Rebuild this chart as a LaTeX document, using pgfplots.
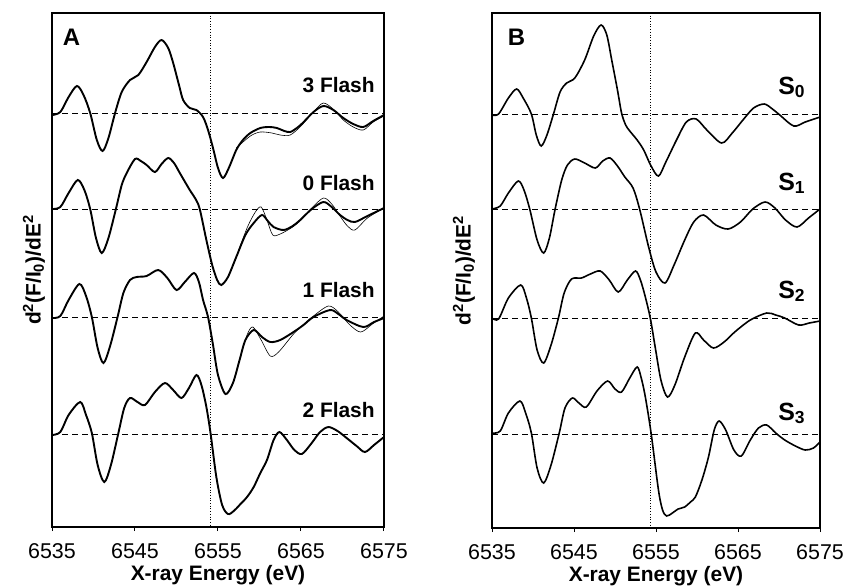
\documentclass[border=0pt]{standalone}
\usepackage{pgfplots}
\pgfplotsset{compat=1.18}
\usepackage{fontspec}
\setmainfont{Liberation Sans}

\tikzset{
  lab/.style={font=\bfseries\fontsize{21}{25}\selectfont},
  big/.style={font=\bfseries\fontsize{24}{28}\selectfont},
  slab/.style={font=\bfseries\fontsize{25}{29}\selectfont},
  curveA/.style={black, line width=1.9bp, smooth, tension=0.5},
  thinA/.style={black, line width=0.6bp, smooth, tension=0.5},
  curve/.style={black, line width=1.6bp, smooth, tension=0.5},
  base/.style={black, line width=0.8bp, dash pattern=on 6bp off 4bp},
  vline/.style={black, line width=0.7bp, dotted},
}
\pgfplotsset{
  panel/.style={
    scale only axis,
    xmin=6535, xmax=6575, y dir=reverse,
    xtick={6535,6545,6555,6565,6575}, ytick=\empty,
    xtick pos=bottom, tick align=outside, major tick length=4bp,
    axis line style={line width=1.3bp},
    xtick style={line width=1bp, black},
    /pgf/number format/assume math mode=true,
    /pgf/number format/1000 sep={},
    tick label style={font=\fontsize{21.5}{25}\selectfont},
    xticklabel style={anchor=center, yshift=-20bp},
    label style={font=\bfseries\fontsize{21}{25}\selectfont},
    xlabel style={at={(axis description cs:0.5,0)}, anchor=center, yshift=-48bp},
    xlabel={X-ray Energy (eV)},
    ylabel={d\textsuperscript{2}(F/I\textsubscript{0})/dE\textsuperscript{2}},
  },
}

\begin{document}
\begin{tikzpicture}
\useasboundingbox (0,0) rectangle (847bp,-586bp);

% ---------------- Panel A ----------------
\begin{axis}[panel, at={(52bp,-527bp)}, anchor=south west,
  width=332bp, height=514bp, ymin=13, ymax=527,
  ylabel style={at={(axis description cs:0,0.5)}, anchor=center, yshift=18bp}]
\addplot[base] coordinates {(6535,113) (6575,113)};
\addplot[base] coordinates {(6535,209) (6575,209)};
\addplot[base] coordinates {(6535,317) (6575,317)};
\addplot[base] coordinates {(6535,434) (6575,434)};
\addplot[vline] coordinates {(6554.1,13) (6554.1,527)};
% 3 Flash
\addplot[curveA] coordinates {
(6535,115) (6536,112) (6537,97) (6538,86) (6538.8,95) (6539.6,113) (6540.4,140) (6541.1,151) (6541.8,138) (6542.6,113) (6543.4,92) (6544.4,80) (6545.4,75) (6546.4,62) (6547.4,47) (6548.2,40) (6549,48) (6549.6,63) (6550.3,85) (6550.8,100) (6551.6,108) (6552.4,110) (6553.2,117) (6553.8,130) (6554.4,148) (6555,168) (6555.6,178) (6556.3,168) (6557.2,150) (6558,140) (6558.9,133) (6560.1,128) (6561.2,127) (6562.1,128) (6563,131) (6563.7,132) (6564.5,128) (6565.2,123) (6566.5,112) (6567.7,106) (6568.9,110) (6570.1,118) (6571.3,124) (6572.5,127) (6573.7,121) (6575,115)};
\addplot[thinA] coordinates {
(6557.2,148) (6558.9,136) (6560.1,132) (6561.5,133) (6562.5,135) (6563.7,135) (6565,126) (6566.5,112) (6567.7,103) (6569,110) (6570.1,120) (6571.3,127) (6572.5,130) (6573.7,122) (6575,116)};
% 0 Flash
\addplot[curveA] coordinates {
(6535,209) (6536,207) (6537,193) (6538.1,180) (6538.9,190) (6539.6,209) (6540.3,238) (6541,253) (6541.8,238) (6542.7,209) (6543.4,185) (6544,173) (6545,159) (6545.7,161) (6546.4,165) (6547.4,172) (6548.2,164) (6549,158) (6549.7,163) (6550.4,173) (6551.6,190) (6552.3,199) (6552.8,209) (6553.6,240) (6554.3,265) (6554.9,280) (6555.4,285) (6556.2,277) (6557.2,257) (6558.3,235) (6559.3,223) (6560.3,215) (6561,221) (6561.7,227) (6562.9,230) (6564,226) (6564.9,220) (6566.3,209) (6567.7,202) (6568.7,207) (6569.7,215) (6570.6,220) (6571.5,222) (6573,216) (6575,208)};
\addplot[thinA] coordinates {
(6557.2,257) (6558.5,228) (6559.5,212) (6560.2,207) (6560.9,220) (6561.6,235) (6562.5,234) (6564,227) (6565,220) (6566.3,208) (6567.7,198) (6568.7,204) (6569.7,216) (6570.6,226) (6571.5,230) (6573,218) (6575,208)};
% 1 Flash
\addplot[curveA] coordinates {
(6535,318) (6536,316) (6537,300) (6538.3,284) (6539.1,296) (6539.8,317) (6540.5,348) (6541.2,363) (6542,346) (6542.9,317) (6543.6,293) (6544.4,280) (6545.2,277) (6546.4,276) (6547.8,270) (6548.9,278) (6550,290) (6551,282) (6552.1,273) (6552.7,282) (6553.2,300) (6553.8,317) (6554.4,345) (6555,375) (6555.9,394) (6556.8,383) (6557.6,360) (6558.3,340) (6559.3,330) (6560.3,337) (6561.3,342) (6562.5,340) (6564.1,332) (6565.3,325) (6566.5,317) (6568.5,310) (6569.5,314) (6570.5,320) (6572.5,327) (6573.8,322) (6575,318)};
\addplot[thinA] coordinates {
(6557.6,360) (6558.5,335) (6559.2,327) (6560.2,340) (6561.3,356) (6562.3,352) (6564.1,334) (6565.5,323) (6566.5,316) (6568.3,306) (6569.5,312) (6570.9,325) (6572.2,332) (6573.6,324) (6575,316)};
% 2 Flash
\addplot[curveA] coordinates {
(6535,435) (6536,432) (6537,415) (6538.4,402) (6539.1,415) (6539.8,433) (6540.5,465) (6541.3,482) (6542.1,465) (6543,433) (6543.7,408) (6544.4,398) (6545.3,402) (6546.2,405) (6547.4,392) (6548.6,383) (6549.6,390) (6550.6,398) (6551.5,388) (6552.4,375) (6553,385) (6553.6,407) (6554.1,433) (6554.8,477) (6555.5,505) (6556.2,514) (6556.9,511) (6557.6,505) (6558.5,497) (6559.3,487) (6560.1,473) (6560.9,460) (6561.7,440) (6562.4,432) (6563.3,440) (6564.2,450) (6565.1,454) (6566.2,444) (6567.3,432) (6568.3,427) (6569.4,431) (6570.5,438) (6571.7,446) (6572.7,452) (6573.8,445) (6575,437)};
\node[big, anchor=base west, inner sep=0pt] at (axis cs:6536.3,45) {A};
\node[lab, anchor=base east, inner sep=0pt] at (axis cs:6573.9,92) {3 Flash};
\node[lab, anchor=base east, inner sep=0pt] at (axis cs:6573.9,190) {0 Flash};
\node[lab, anchor=base east, inner sep=0pt] at (axis cs:6573.9,297) {1 Flash};
\node[lab, anchor=base east, inner sep=0pt] at (axis cs:6573.9,417) {2 Flash};
\end{axis}

% ---------------- Panel B ----------------
\begin{axis}[panel, at={(492bp,-528bp)}, anchor=south west,
  width=328bp, height=515bp, ymin=13, ymax=528,
  ylabel style={at={(axis description cs:0,0.5)}, anchor=center, yshift=28bp}]
\addplot[base] coordinates {(6535,114) (6575,114)};
\addplot[base] coordinates {(6535,209) (6575,209)};
\addplot[base] coordinates {(6535,318) (6575,318)};
\addplot[base] coordinates {(6535,434) (6575,434)};
\addplot[vline] coordinates {(6554.3,13) (6554.3,528)};
% S0
\addplot[curve] coordinates {
(6535,115) (6535.8,114) (6537,98) (6538,89) (6538.8,98) (6539.8,114) (6540.4,135) (6541,146) (6541.7,135) (6542.5,114) (6543.3,92) (6544.1,83) (6545.1,78) (6546.3,60) (6547.4,36) (6548.3,25) (6549,35) (6549.6,60) (6550.3,90) (6550.8,113) (6551.3,125) (6551.8,131) (6552.7,140) (6553.5,150) (6554.4,166) (6555.3,176) (6556.2,162) (6557.5,140) (6558.7,122) (6559.9,119) (6561.2,130) (6563,143) (6564.3,133) (6565.6,120) (6566.9,108) (6568.2,104) (6569.2,109) (6570.1,115) (6571.8,126) (6573.2,122) (6575,117)};
% S1
\addplot[curve] coordinates {
(6535,209) (6536,206) (6537,193) (6538.2,181) (6538.9,190) (6539.6,209) (6540.5,240) (6541.3,253) (6542,238) (6542.7,209) (6543.5,180) (6544.2,165) (6545.1,159) (6546.3,163) (6547.6,168) (6548.5,161) (6549.4,158) (6550.3,166) (6551.2,177) (6552.2,188) (6553,209) (6554.1,247) (6555,272) (6556.1,283) (6557.2,265) (6558.5,240) (6559.6,222) (6560.8,215) (6562.3,225) (6563.8,229) (6565.3,222) (6566.8,209) (6568.3,202) (6569.5,208) (6570.8,220) (6572.2,227) (6573.6,218) (6575,209)};
% S2
\addplot[curve] coordinates {
(6535,318) (6535.8,319) (6537,298) (6538.5,285) (6539.2,298) (6539.8,318) (6540.5,350) (6541.3,363) (6542.2,345) (6543.1,318) (6543.8,293) (6544.7,279) (6545.9,278) (6547,274) (6548.2,271) (6549.3,280) (6550.4,292) (6551.5,280) (6552.5,271) (6553.1,280) (6553.7,297) (6554.3,318) (6554.9,347) (6555.6,380) (6556.4,397) (6557.3,385) (6558.5,357) (6559.8,333) (6560.8,340) (6562,348) (6563.3,342) (6564.6,332) (6566.5,320) (6568.5,313) (6569.6,315) (6570.7,318) (6572.4,325) (6573.7,323) (6575,321)};
% S3
\addplot[curve] coordinates {
(6535,433) (6536,431) (6537,413) (6538.4,401) (6539.1,413) (6539.8,433) (6540.5,468) (6541.3,483) (6542.2,465) (6543.2,433) (6543.9,408) (6544.8,398) (6545.6,403) (6546.5,407) (6547.8,391) (6549.1,381) (6550,389) (6550.8,392) (6551.8,378) (6552.7,367) (6553.2,378) (6553.7,397) (6554.4,433) (6555.3,490) (6555.8,510) (6556.3,516) (6557,513) (6557.7,509) (6558.5,507) (6559.2,502) (6559.8,497) (6560.6,480) (6561.4,457) (6562.1,430) (6562.7,421) (6563.5,430) (6564.5,450) (6565.4,456) (6566.5,440) (6567.5,428) (6568.5,425) (6569.6,433) (6570.7,440) (6572,446) (6573.2,450) (6574.2,448) (6575,442)};
\node[big, anchor=base west, inner sep=0pt] at (axis cs:6536.9,45) {B};
\node[slab, anchor=base west, inner sep=0pt] at (axis cs:6569.9,94) {S\textsubscript{0}};
\node[slab, anchor=base west, inner sep=0pt] at (axis cs:6569.9,190) {S\textsubscript{1}};
\node[slab, anchor=base west, inner sep=0pt] at (axis cs:6569.9,298) {S\textsubscript{2}};
\node[slab, anchor=base west, inner sep=0pt] at (axis cs:6569.9,420) {S\textsubscript{3}};
\end{axis}
\end{tikzpicture}
\end{document}
